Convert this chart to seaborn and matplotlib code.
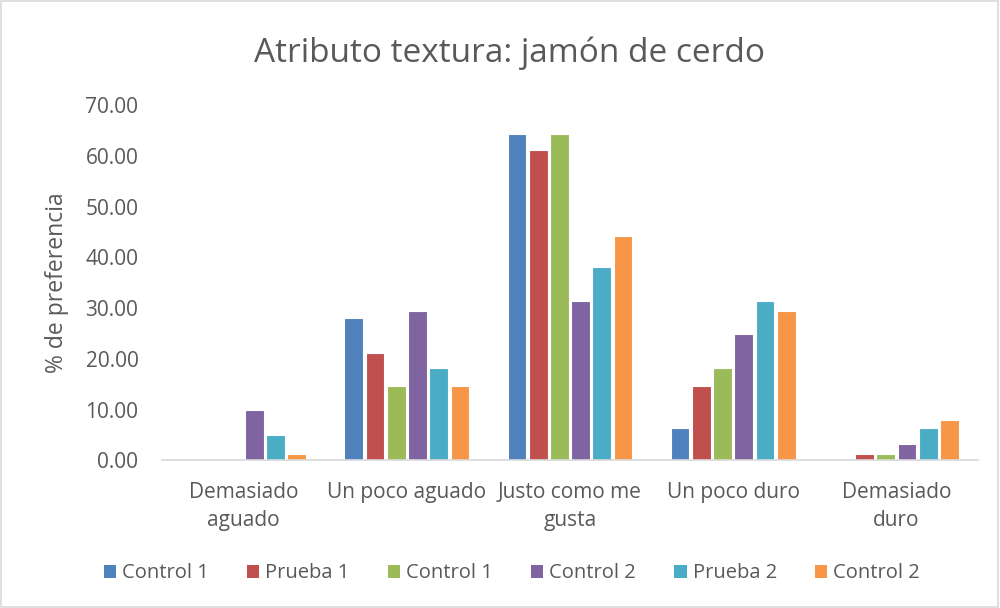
import matplotlib
matplotlib.use("Agg")
import matplotlib.pyplot as plt
import seaborn as sns
import pandas as pd
from matplotlib.patches import Patch, Rectangle

categories = ["Demasiado\naguado", "Un poco aguado", "Justo como me\ngusta", "Un poco duro", "Demasiado\nduro"]
series_labels = ["Control 1", "Prueba 1", "Control 1", "Control 2", "Prueba 2", "Control 2"]
s1_control1 = [0.0, 28.0, 64.3, 6.4, 0.0]
s2_prueba1 = [0.0, 21.2, 61.2, 14.6, 1.3]
s3_control1 = [0.0, 14.6, 64.3, 18.1, 1.3]
s4_control2 = [10.0, 29.4, 31.4, 24.8, 3.2]
s5_prueba2 = [5.0, 18.1, 38.1, 31.4, 6.4]
s6_control2 = [1.3, 14.6, 44.3, 29.4, 7.9]
yticks = [0, 10, 20, 30, 40, 50, 60, 70]

colors = ["#4F81BD", "#C0504D", "#9BBB59", "#8064A2", "#4BACC6", "#F79646"]
all_series = [s1_control1, s2_prueba1, s3_control1, s4_control2, s5_prueba2, s6_control2]

rows = []
for i, vals in enumerate(all_series):
    for c, v in zip(categories, vals):
        rows.append({"cat": c, "serie": f"s{i}", "val": v})
df = pd.DataFrame(rows)

sns.set_style("white")
plt.rcParams["font.family"] = ["Open Sans", "DejaVu Sans"]

fig = plt.figure(figsize=(10, 6.08), dpi=100)
ax = fig.add_axes([0.162, 0.243, 0.816, 0.584])

sns.barplot(data=df, x="cat", y="val", hue="serie", order=categories,
            hue_order=[f"s{i}" for i in range(6)], palette=colors, saturation=1,
            width=0.78, gap=0.12, edgecolor="white", linewidth=0.8,
            errorbar=None, ax=ax, legend=False)

ax.set_ylim(0, 70)
ax.set_yticks(yticks)
ax.set_yticklabels([f"{t:.2f}" for t in yticks])
ax.set_xlim(-0.5, 4.5)
for side in ["top", "right", "left"]:
    ax.spines[side].set_visible(False)
ax.spines["bottom"].set_color("#D9D9D9")
ax.spines["bottom"].set_linewidth(1.2)
ax.tick_params(axis="both", length=0, colors="#595959", labelsize=15)
ax.tick_params(axis="x", pad=16)
ax.tick_params(axis="y", pad=17)
for lbl in ax.get_xticklabels():
    lbl.set_linespacing(1.4)
ax.set_xlabel("")
ax.set_ylabel("% de preferencia", color="#595959", fontsize=16.5, labelpad=12)
ax.grid(False)

fig.text(0.51, 0.912, "Atributo textura: jamón de cerdo", ha="center", va="center",
         fontsize=24, color="#595959")

handles = [Patch(facecolor=c, edgecolor="none") for c in colors]
fig.legend(handles, series_labels, loc="center", bbox_to_anchor=(0.512, 0.057), ncol=6,
           frameon=False, fontsize=14.5, handlelength=0.6, handleheight=0.6,
           handletextpad=0.3, columnspacing=1.9, labelcolor="#595959")

fig.patches.append(Rectangle((0.001, 0.001), 0.997, 0.997, transform=fig.transFigure,
                             fill=False, edgecolor="#D9D9D9", linewidth=1.2))

fig.savefig("out.png", dpi=100, facecolor="white")
